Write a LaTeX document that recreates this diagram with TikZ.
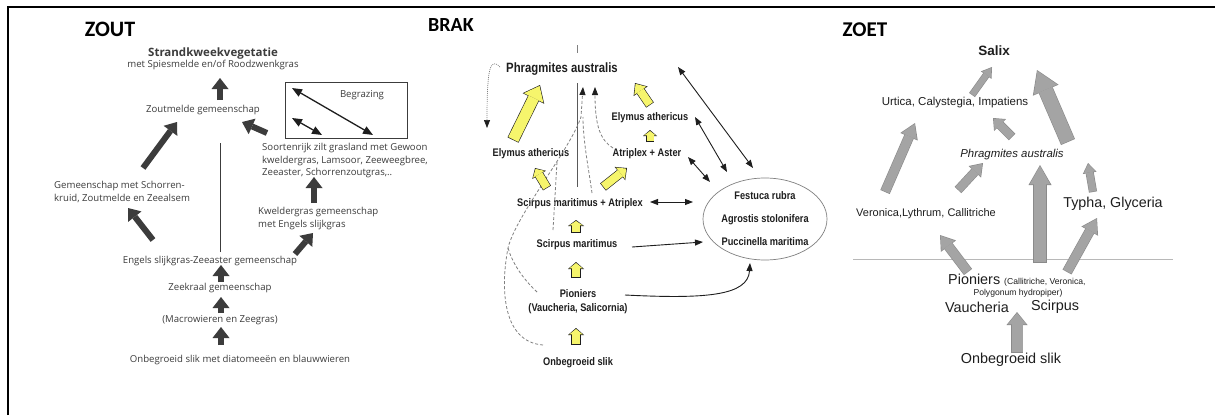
\documentclass[tikz,border=0pt]{standalone}
\usepackage{fontspec}
\setmainfont{Open Sans}
\newfontfamily\headfont{Carlito}
\newfontfamily\brakfont[FakeStretch=0.84]{Liberation Sans}
\newfontfamily\zoetfont{Liberation Sans}
\usetikzlibrary{positioning,arrows.meta,shapes.geometric}
\definecolor{ink}{HTML}{1E1E1E}
\definecolor{slate}{HTML}{3C3C3C}
\definecolor{lemon}{HTML}{F6F56C}
\definecolor{ash}{HTML}{A4A4A4}
\definecolor{ashedge}{HTML}{8A8A8A}
\definecolor{haze}{HTML}{B8B8B8}
% outlined block arrow: fill, edge, shaft, head width, head length, from, to
\newcommand{\blockarrow}[7]{%
  \pgfmathsetmacro{\baout}{#3+1.2}\pgfmathsetmacro{\bawid}{#4-2.4}\pgfmathsetmacro{\balen}{#5-1.6}%
  \draw[#2,line width=\baout pt,-{Triangle[width=#4pt,length=#5pt,line width=0pt]}] #6 -- #7;
  \draw[#1,line width=#3pt,shorten <=0.6pt,shorten >=1pt,-{Triangle[width=\bawid pt,length=\balen pt,line width=0pt]}] #6 -- #7;}

\begin{document}
\begin{tikzpicture}[x=1pt,y=-1pt,
    zout/.style={inner sep=0pt,text=slate,font=\fontsize{9.6}{12.5}\selectfont},
    brak/.style={inner sep=0pt,text=ink,font=\brakfont\bfseries\fontsize{11}{14}\selectfont},
    zoet/.style={inner sep=0pt,text=ink,font=\zoetfont\fontsize{11.5}{13}\selectfont},
    zoetbig/.style={zoet,font=\zoetfont\fontsize{14.4}{16}\selectfont},
    paneltitle/.style={inner sep=0pt,font=\headfont\bfseries\fontsize{22}{24}\selectfont},
    zarrow/.style={slate,line width=6pt,-{Triangle[width=17pt,length=11pt,line width=0pt]}},
    twoway/.style={ink,line width=0.9pt,{Triangle[width=6pt,length=8pt]}-{Triangle[width=6pt,length=8pt]}},
    oneway/.style={ink,line width=0.9pt,-{Triangle[width=6pt,length=8pt]}},
    route/.style={gray,line width=0.8pt,dash pattern=on 3pt off 2pt}]
  \useasboundingbox (0,0) rectangle (1215,415);
  \fill[white] (0,0) rectangle (1215,415);
  \draw[line width=2.2pt] (8,415) -- (8,7) -- (1215,7);

  % ZOUT
  \node[paneltitle] (zoutT) at (110,29) {ZOUT};
  \node[zout,align=center,font=\fontsize{9.6}{11}\selectfont] (strand) at (213,58.5) {{\bfseries\fontsize{11.5}{11}\selectfont Strandkweekvegetatie}\\met Spiesmelde en/of Roodzwenkgras};
  \node[zout] (zoutm) at (203,110) {Zoutmelde gemeenschap};
  \node[draw=slate,line width=0.7pt,minimum width=122pt,minimum height=56pt] (graze) at (346,110) {};
  \node[zout] (grazeT) at (362,95) {Begrazing};
  \node[zout,anchor=west,align=left] (soort) at (262,161) {Soortenrijk zilt grasland met Gewoon\\kweldergras, Lamsoor, Zeeweegbree,\\Zeeaster, Schorrenzoutgras,..};
  \node[zout,anchor=west,align=left,font=\fontsize{9.6}{13}\selectfont] (schor) at (54,191.5) {Gemeenschap met Schorren-\\kruid, Zoutmelde en Zeealsem};
  \node[zout,anchor=west,align=left,font=\fontsize{9.6}{13}\selectfont] (kweld) at (258,219) {Kweldergras gemeenschap\\met Engels slijkgras};
  \node[zout] (engels) at (210,261) {Engels slijkgras-Zeeaster gemeenschap};
  \node[zout] (zeekr) at (220,288) {Zeekraal gemeenschap};
  \node[zout] (macro) at (220,320) {(Macrowieren en Zeegras)};
  \node[zout] (onbZout) at (240,360) {Onbegroeid slik met diatomeeën en blauwwieren};

  \draw[zarrow] ([shift={(17,-10)}]zoutm.center) -- ([shift={(7,19.5)}]strand.center);
  \draw[zarrow] ([shift={(89,-23.5)}]schor.west) -- ([shift={(-26,12)}]zoutm.center);
  \draw[zarrow] ([shift={(5,-28)}]soort.west) -- ([shift={(39,12)}]zoutm.center);
  \draw[zarrow] ([shift={(56,-16)}]kweld.west) -- ([shift={(52,16)}]soort.west);
  \draw[zarrow] ([shift={(85,-7)}]engels.center) -- ([shift={(55,14)}]kweld.west);
  \draw[zarrow] ([shift={(-57,-21)}]engels.center) -- ([shift={(74,16.5)}]schor.west);
  \draw[zarrow] ([shift={(1,-6)}]zeekr.center) -- ([shift={(11,4)}]engels.center);
  \draw[zarrow] ([shift={(1,-7)}]macro.center) -- ([shift={(1,9)}]zeekr.center);
  \draw[zarrow] ([shift={(-19,-15)}]onbZout.center) -- ([shift={(1,7)}]macro.center);
  \draw[slate,line width=0.8pt] ([shift={(10,-9)}]engels.center) -- ([shift={(17,33)}]zoutm.center);
  \draw[twoway,line width=1.3pt,{Triangle[width=8pt,length=10pt]}-{Triangle[width=8pt,length=10pt]}] ([shift={(-54,-22)}]graze.center) -- ([shift={(27,25)}]graze.center);
  \draw[twoway,line width=1.3pt,{Triangle[width=8pt,length=10pt]}-{Triangle[width=8pt,length=10pt]}] ([shift={(-54,8)}]graze.center) -- ([shift={(-24,25)}]graze.center);

  % BRAK
  \node[paneltitle,font=\headfont\bfseries\fontsize{20}{22}\selectfont] (brakT) at (451,25) {BRAK};
  \node[brak,font=\brakfont\bfseries\fontsize{13.5}{15}\selectfont] (phrag) at (562,69) {Phragmites australis};
  \node[brak] (elymU) at (650,118) {Elymus athericus};
  \node[brak] (atrip) at (647,154) {Atriplex + Aster};
  \node[brak] (elymL) at (531,154) {Elymus athericus};
  \node[brak] (scat) at (580,204) {Scirpus maritimus + Atriplex};
  \node[brak] (scm) at (577,245) {Scirpus maritimus};
  \node[brak,align=center] (pion) at (578,302) {Pioniers\\(Vaucheria, Salicornia)};
  \node[brak] (onbBrak) at (578,363) {Onbegroeid slik};
  \node[brak,draw=gray,ellipse,line width=0.7pt,minimum width=124pt,minimum height=82pt,align=center,font=\brakfont\bfseries\fontsize{11}{23}\selectfont] (grass) at (765,219) {Festuca rubra\\Agrostis stolonifera\\Puccinella maritima};

  \coordinate (tickTop) at (577,45);
  \coordinate (loopEnd) at (487,128);
  \coordinate (merge) at (508,248);
  \draw[gray,line width=0.8pt] (tickTop) -- ++(0,8);
  \draw[gray!70!black,line width=0.9pt] ([shift={(15,14)}]phrag.center) -- ([shift={(-3,-17)}]scat.center);
  \draw[gray,line width=0.7pt,dash pattern=on 1pt off 1pt,-{Triangle[width=6pt,length=8pt,color=ink]}] ([shift={(-62,-2)}]phrag.center) .. controls (490,57) and (487,68) .. (loopEnd);
  \draw[route,-{Triangle[width=6pt,length=8pt,color=ink]}] ([shift={(-35,-18)}]onbBrak.center) .. controls (503,342) and (500,290) .. (merge) .. controls (516,215) and (570,150) .. (581,117) -- ([shift={(21,18)}]phrag.center);
  \draw[route] ([shift={(-41,-10)}]pion.center) .. controls (522,278) and (512,262) .. (merge);
  \draw[route] ([shift={(-24,-15)}]scm.center) -- ([shift={(26,8)}]elymL.center);
  \draw[route] ([shift={(12,-11)}]scat.center) .. controls (588,165) and (583,140) .. ([shift={(21,48)}]phrag.center);
  \draw[route,-{Triangle[width=6pt,length=8pt,color=ink]}] ([shift={(-34,-6)}]atrip.center) .. controls (600,140) and (595,125) .. ([shift={(33,18)}]phrag.center);

  \blockarrow{lemon}{ink}{11}{24}{15}{([shift={(-18,-14)}]elymL.center)}{([shift={(-22,16)}]phrag.center)}
  \blockarrow{lemon}{ink}{8}{17}{10}{([shift={(0,-13)}]elymU.center)}{([shift={(73,14)}]phrag.center)}
  \blockarrow{lemon}{ink}{7}{14}{6}{([shift={(3,-12)}]atrip.center)}{([shift={(0,12)}]elymU.center)}
  \blockarrow{lemon}{ink}{8}{16}{8}{([shift={(-33,-16)}]scat.center)}{([shift={(4,14)}]elymL.center)}
  \blockarrow{lemon}{ink}{8}{17}{9}{([shift={(23,-17)}]scat.center)}{([shift={(-20,14)}]atrip.center)}
  \blockarrow{lemon}{ink}{8}{16}{6}{([shift={(-1,-12)}]scm.center)}{([shift={(-4,16)}]scat.center)}
  \blockarrow{lemon}{ink}{8}{16}{7}{([shift={(-2,-24)}]pion.center)}{([shift={(-1,17)}]scm.center)}
  \blockarrow{lemon}{ink}{8}{16}{7}{([shift={(-2,-18)}]onbBrak.center)}{([shift={(-2,26)}]pion.center)}

  \draw[twoway] ([shift={(116,-2)}]phrag.center) -- ([shift={(-12,-51)}]grass.center);
  \draw[twoway] ([shift={(45,-1)}]elymU.center) -- ([shift={(-38,-47)}]grass.center);
  \draw[twoway] ([shift={(41,3)}]atrip.center) -- ([shift={(-55,-37)}]grass.center);
  \draw[twoway] ([shift={(70,-2)}]scat.center) -- ([shift={(-72,-17)}]grass.center);
  \draw[oneway] ([shift={(55,2)}]scm.center) -- ([shift={(-62,23)}]grass.center);
  \draw[oneway] ([shift={(47,-7)}]pion.center) .. controls (705,299) and (748,296) .. ([shift={(-15,44)}]grass.center);

  % ZOET
  \node[paneltitle,font=\headfont\bfseries\fontsize{21}{23}\selectfont] (zoetT) at (865,30) {ZOET};
  \node[zoet,font=\zoetfont\bfseries\fontsize{13.5}{15}\selectfont] (salix) at (994,51) {Salix};
  \node[zoet] (urt) at (955,103) {Urtica, Calystegia, Impatiens};
  \node[zoet,font=\zoetfont\itshape\fontsize{11.4}{13}\selectfont] (phrZ) at (1012,155) {Phragmites australis};
  \node[zoet,font=\zoetfont\fontsize{11}{13}\selectfont] (ver) at (926,214) {Veronica,Lythrum, Callitriche};
  \node[zoet,font=\zoetfont\fontsize{14.3}{16}\selectfont] (typha) at (1113,204) {Typha, Glyceria};
  \node[zoetbig,anchor=west] (pionZ) at (948,280) {Pioniers {\fontsize{8.6}{10}\selectfont(Callitriche, Veronica,}};
  \node[zoet,font=\zoetfont\fontsize{8.6}{10}\selectfont] (polyg) at (1018,293) {Polygonum hydropiper)};
  \node[zoetbig] (vauch) at (977,307) {Vaucheria};
  \node[zoetbig] (scirp) at (1055,307) {Scirpus};
  \node[zoetbig] (onbZoet) at (1011,360) {Onbegroeid slik};

  \coordinate (divL) at (853,259);
  \coordinate (divR) at (1173,259);
  \draw[haze,line width=0.7pt] (divL) -- (divR);

  \blockarrow{ash}{ashedge}{6}{13}{10}{([shift={(17,-8)}]urt.center)}{([shift={(-2,16)}]salix.center)}
  \blockarrow{ash}{ashedge}{14}{28}{22}{([shift={(56,-13)}]phrZ.center)}{([shift={(43,19)}]salix.center)}
  \blockarrow{ash}{ashedge}{9}{19}{15}{([shift={(-41,-22)}]ver.center)}{([shift={(-40,20)}]urt.center)}
  \blockarrow{ash}{ashedge}{8}{17}{10}{([shift={(0,-18)}]phrZ.center)}{([shift={(38,15)}]urt.center)}
  \blockarrow{ash}{ashedge}{8}{17}{12}{([shift={(32,-24)}]ver.center)}{([shift={(-29,8)}]phrZ.center)}
  \blockarrow{ash}{ashedge}{12}{23}{20}{([shift={(92,-17)}]pionZ.west)}{([shift={(28,10)}]phrZ.center)}
  \blockarrow{ash}{ashedge}{7}{14}{10}{([shift={(-20,-12)}]typha.center)}{([shift={(76,8)}]phrZ.center)}
  \blockarrow{ash}{ashedge}{9}{19}{14}{([shift={(20,-8)}]pionZ.west)}{([shift={(14,21)}]ver.center)}
  \blockarrow{ash}{ashedge}{9}{19}{15}{([shift={(119,-8)}]pionZ.west)}{([shift={(-16,14)}]typha.center)}
  \blockarrow{ash}{ashedge}{11}{21}{13}{([shift={(6,-7)}]onbZoet.center)}{([shift={(40,5)}]vauch.center)}
\end{tikzpicture}
\end{document}
